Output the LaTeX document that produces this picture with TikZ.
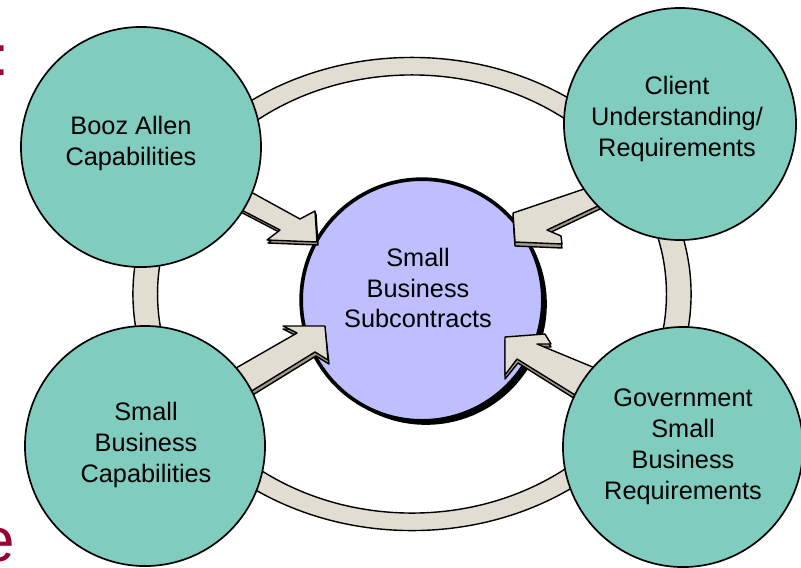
\documentclass[tikz,border=0pt]{standalone}
\usepackage{fontspec}
\setmainfont{Liberation Sans}
\usepackage{tikz}

\definecolor{tealfill}{RGB}{128,204,191}
\definecolor{hubfill}{RGB}{191,191,255}
\definecolor{beige}{RGB}{226,221,210}
\definecolor{beigedark}{RGB}{160,152,136}
\definecolor{slidered}{RGB}{153,0,51}

\begin{document}
\begin{tikzpicture}[x=0.025cm, y=-0.025cm,
	main/.style = {draw, circle, fill=tealfill, line width=1.2pt, inner sep=0pt},
	hub/.style = {draw, circle, fill=hubfill, line width=2.6pt, inner sep=0pt},
	txt/.style = {align=center, font=\fontsize{18}{22}\selectfont, inner sep=0pt},
	ring/.style = {fill=beige, draw, line width=1pt, even odd rule},
	blockarrow/.style = {fill=beige, draw, line width=1pt, line join=round},
	blockside/.style = {fill=beigedark, draw, line width=1pt, line join=round}]
	\clip (0,0) rectangle (801,567);
	% cut-off slide text at the left edge
	\node[text=slidered, font=\fontsize{40}{40}\selectfont, anchor=base west, inner sep=0pt] (colon) at (-7,75) {:};
	\node[text=slidered, font=\fontsize{44}{44}\selectfont, anchor=base east, inner sep=0pt] (lettere) at (15.5,561) {e};
	% ring behind the circles
	\draw[ring] (412,294) ellipse [x radius=6.975cm, y radius=5.9125cm]
		(412,294) ellipse [x radius=6.36cm, y radius=5.475cm];
	% centre circle with shadow
	\fill (426,304) circle [radius=3.02cm];
	\node[hub, minimum size=6.04cm] (sbs) at (422,300) {};
	\node[txt] (sbstext) at (418,288) {Small\\Business\\Subcontracts};
	% block arrows (underside first)
	\draw[blockside] (241,189) -- (301,222) -- (316,214) -- (318,245) -- (268,243) -- (281,233) -- (231,207) -- cycle;
	\draw[blockarrow] (240,186) -- (300,219) -- (315,211) -- (317,242) -- (267,240) -- (280,230) -- (230,204) -- cycle;
	\draw[blockside] (590,191) -- (513,216) -- (515,246) -- (562,248) -- (561,240) -- (547,234) -- (600,209) -- cycle;
	\draw[blockarrow] (590,187) -- (513,213) -- (515,242) -- (562,244) -- (561,236) -- (547,230) -- (600,205) -- cycle;
	\draw[blockside] (236,371) -- (297,336) -- (283,329) -- (325,329) -- (329,364) -- (316,356) -- (251,396) -- cycle;
	\draw[blockarrow] (236,368) -- (297,333) -- (283,326) -- (325,326) -- (328,360) -- (315,352) -- (250,392) -- cycle;
	\draw[blockside] (505,340) -- (545,337) -- (551,347) -- (537,347) -- (595,371) -- (580,402) -- (518,363) -- (505,379) -- cycle;
	\draw[blockarrow] (505,337) -- (545,334) -- (551,344) -- (537,344) -- (595,368) -- (580,398) -- (517,359) -- (505,375) -- cycle;
	% outer circles
	\node[main, minimum size=6cm] (booz) at (141,147) {};
	\node[txt] (booztext) at (131,143) {Booz Allen\\Capabilities};
	\node[main, minimum size=5.8cm] (client) at (680,124) {};
	\node[txt] (clienttext) at (677,119) {Client\\Understanding/\\Requirements};
	\node[main, minimum size=6cm] (sbcap) at (145,446) {};
	\node[txt] (sbcaptext) at (146,445) {Small\\Business\\Capabilities};
	\node[main, minimum size=6cm] (gov) at (683,447) {};
	\node[txt] (govtext) at (683,447) {Government\\Small\\Business\\Requirements};
\end{tikzpicture}
\end{document}
